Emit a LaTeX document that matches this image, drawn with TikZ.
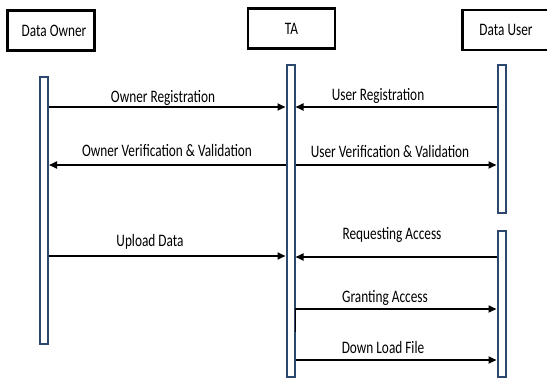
\documentclass[tikz,border=0pt]{standalone}
\usepackage{fontspec}
\setmainfont{Carlito}[FakeStretch=0.76]
\usetikzlibrary{arrows.meta,positioning}
\definecolor{LifeBlue}{RGB}{44,72,110}

\begin{document}
\begin{tikzpicture}[x=1pt,y=-1pt,
  head/.style={draw,line width=2.5pt,minimum width=87pt,minimum height=40pt,
               inner sep=0pt,font=\fontsize{17.5}{20}\selectfont},
  bar/.style={draw=LifeBlue,line width=2pt,fill=white,
              minimum width=8pt,inner sep=0pt},
  msg/.style={-{Triangle[length=8pt,width=7pt]},line width=1.8pt},
  lbl/.style={anchor=base,inner sep=0pt,font=\fontsize{17.5}{20}\selectfont}]
  \useasboundingbox (0,0) rectangle (547,381);
  % participants
  \node[head] (DO) at (51,30.5) {\hspace*{6pt}Data Owner};
  \node[head] (TA) at (291.5,28.5) {TA};
  \node[head] (DU) at (506,30) {Data User};
  % activation bars
  \node[bar,minimum height=267pt] (OB)  at (44,210.5) {};
  \node[bar,minimum height=312pt] (TB)  at (290.5,221) {};
  \node[bar,minimum height=148pt] (UB1) at (501.5,139) {};
  \node[bar,minimum height=146pt] (UB2) at (501.5,304) {};
  % message rows
  \coordinate (r1) at (0,107);
  \coordinate (r2) at (0,165);
  \coordinate (r3) at (0,256);
  \coordinate (r4) at (0,257);
  \coordinate (r5) at (0,309);
  \coordinate (r5b) at (0,332);
  \coordinate (r6) at (0,360);
  \draw[msg] (OB.east |- r1) -- (TB.west |- r1);
  \draw[msg] (UB1.west |- r1) -- (TB.east |- r1);
  \draw[msg] (TB.west |- r2) -- (OB.east |- r2);
  \draw[msg] (TB.east |- r2) -- (UB1.west |- r2);
  \draw[msg] (OB.east |- r3) -- (TB.west |- r3);
  \draw[msg] (UB2.west |- r4) -- (TB.east |- r4);
  \draw[msg] (TB.east |- r5b) -- (TB.east |- r5) -- (UB2.west |- r5);
  \draw[msg] (TB.east |- r6) -- (UB2.west |- r6);
  % labels
  \node[lbl] (L1) at (163,102) {Owner Registration};
  \node[lbl] (L2) at (378,100) {User Registration};
  \node[lbl] (L3) at (167,156) {Owner Verification \& Validation};
  \node[lbl] (L4) at (390,157) {User Verification \& Validation};
  \node[lbl] (L5) at (150,246) {Upload Data};
  \node[lbl] (L6) at (392,239) {Requesting Access};
  \node[lbl] (L7) at (385,302) {Granting Access};
  \node[lbl] (L8) at (383,353) {Down Load File};
\end{tikzpicture}
\end{document}
